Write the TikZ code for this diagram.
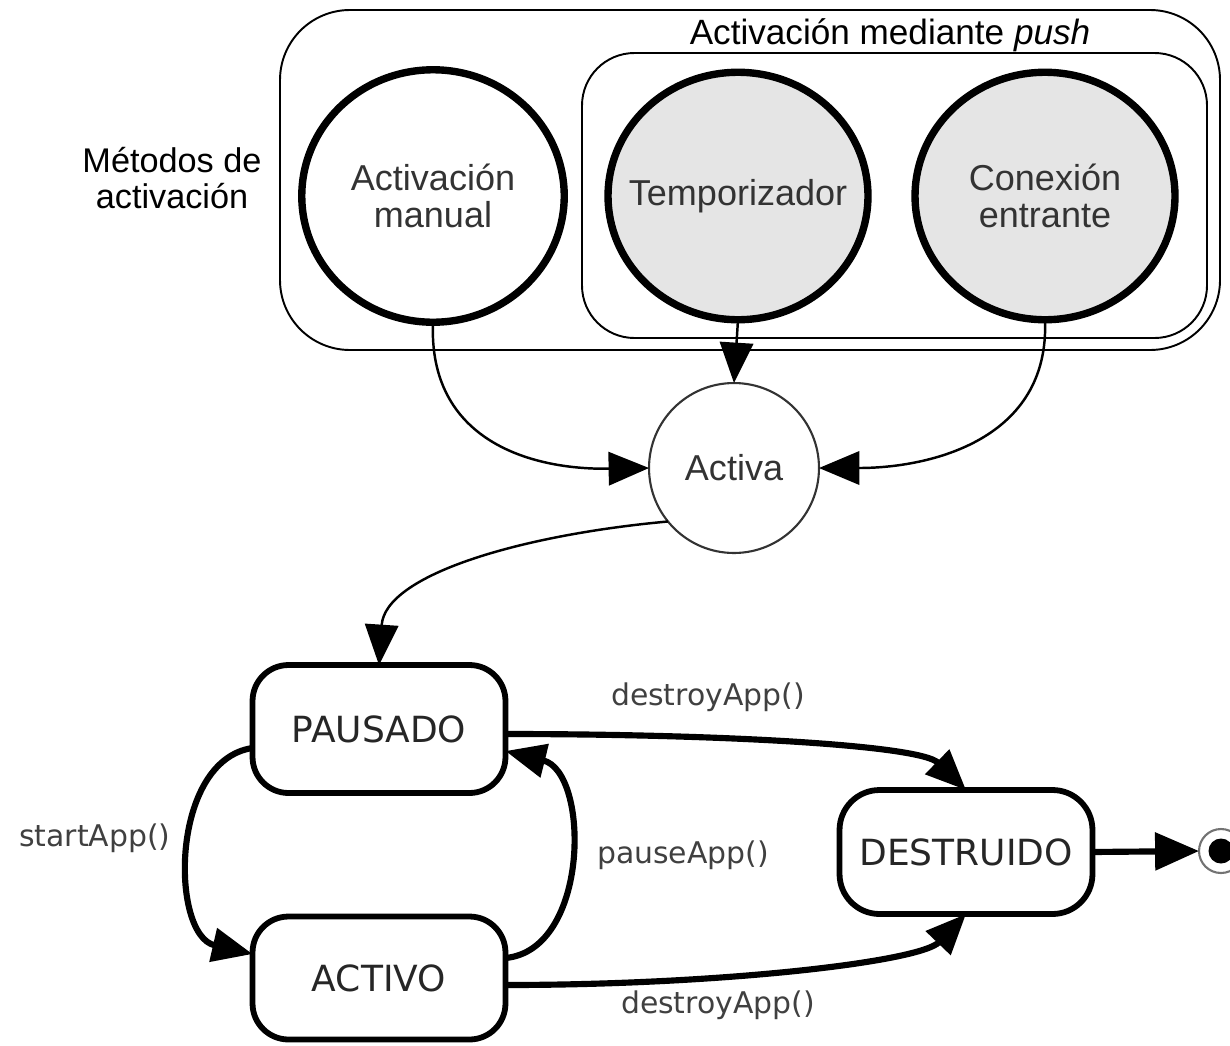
\documentclass[tikz,border=0pt]{standalone}
\usepackage{fontspec}
\setmainfont{Liberation Sans}
\newfontfamily\verd{DejaVu Sans}
\usetikzlibrary{shapes.geometric,arrows.meta,calc}
\begin{document}
\begin{tikzpicture}[x=0.02cm,y=-0.02cm,
  method/.style={ellipse, draw, line width=4.2pt, minimum width=5.25cm, minimum height=5.05cm,
    inner sep=0pt, outer sep=0pt},
  pushm/.style={method, fill=gray!20, minimum width=5.2cm, minimum height=4.95cm},
  mtext/.style={align=center, text=black!80, inner sep=0pt,
    font=\fontsize{20.5}{21}\selectfont},
  stbox/.style={rounded corners=0.72cm, draw, line width=3.3pt, minimum width=5.06cm,
    minimum height=2.56cm, inner sep=0pt, outer sep=0pt, text=black!85,
    font=\verd\fontsize{20.5}{24}\selectfont},
  thinarr/.style={line width=1.4pt, -{Triangle[length=23pt,width=19pt]}},
  thickarr/.style={line width=3.5pt, -{Triangle[length=23pt,width=19pt]}},
  lbl/.style={font=\verd\fontsize{17}{20}\selectfont, text=black!75, inner sep=0pt},
  frame/.style={draw, line width=1.1pt}
]
\useasboundingbox (0,0) rectangle (1230,1045);
\clip (0,0) rectangle (1230,1045);

% containers
\draw[frame, rounded corners=1.4cm] (280,10) rectangle (1220,350);
\draw[frame, rounded corners=1.05cm] (582,53) rectangle (1207,338);
\node[font=\fontsize{20}{21}\selectfont, inner sep=0pt] (pushlbl) at (890,35) {Activación mediante \textit{push}};
\node[font=\fontsize{19.5}{21}\selectfont, align=center, inner sep=0pt] (metlbl) at (172,178) {Métodos de\\activación};

% methods
\node[method] (man) at (433,196) {};
\node[mtext] (mant) at (man) {Activación\\manual};
\node[pushm] (tem) at (738,196) {};
\node[mtext] (temt) at (tem) {Temporizador};
\node[pushm] (con) at (1045,196) {};
\node[mtext] (cont) at (con) {Conexión\\entrante};

% Activa
\node[circle, draw=black!80, line width=1.2pt, minimum size=3.4cm, inner sep=0pt, outer sep=0pt,
  text=black!80, font=\fontsize{20.5}{21}\selectfont] (act) at (734,468) {Activa};

% states
\node[stbox] (pau) at (379,729) {PAUSADO};
\node[stbox, minimum height=2.46cm] (acv) at (379,978) {ACTIVO};
\node[stbox, minimum height=2.48cm, rounded corners=0.8cm] (des) at (966,852) {DESTRUIDO};
\node[circle, draw=black!55, line width=1.2pt, minimum size=0.88cm, inner sep=0pt, outer sep=0pt] (fin) at (1221,851) {};
\node[circle, fill=black, minimum size=0.5cm, inner sep=0pt] (findot) at (fin) {};

% connectors top
\draw[thinarr] (man.south) .. controls (428,440) and (530,470) .. (act.west);
\draw[thinarr] (tem.south) -- (act.north);
\draw[thinarr] (con.south) .. controls (1050,440) and (930,468) .. (act.east);
\draw[thinarr] (act.219) .. controls (520,535) and (385,575) .. (pau.north);

% state transitions
\draw[thickarr] ($(pau.east)+(0,5)$) .. controls (720,734) and (920,745) .. (des.north);
\draw[thickarr] ($(acv.east)+(0,7)$) .. controls (720,985) and (920,962) .. (des.south);
\draw[thickarr] ($(pau.west)+(0,19)$) .. controls (170,760) and (170,935) .. ($(acv.west)+(0,-24)$);
\draw[thickarr] ($(acv.east)+(0,-20)$) .. controls (590,950) and (590,772) .. ($(pau.east)+(0,22)$);
\draw[line width=3.5pt, -{Triangle[length=25pt,width=21pt]}] (des.east) -- (fin.west);

% labels
\node[lbl] (l1) at (708,697) {destroyApp()};
\node[lbl] (l2) at (718,1005) {destroyApp()};
\node[lbl] (l3) at (683,855) {pauseApp()};
\node[lbl] (l4) at (95,838) {startApp()};
\end{tikzpicture}
\end{document}
